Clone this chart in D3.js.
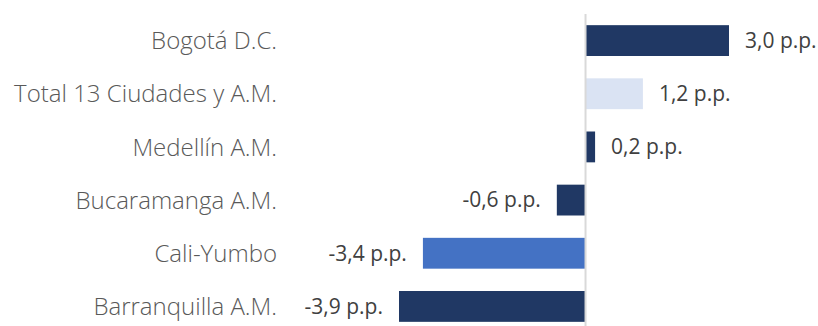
<!DOCTYPE html>
<html>
<head>
<meta charset="utf-8">
<script src="https://cdn.jsdelivr.net/npm/d3@7"></script>
<style>
  body { margin: 0; background: #fff; }
</style>
</head>
<body>
<div id="main-container"></div>
<script>
// Data
const categories = ['Bogotá D.C.', 'Total 13 Ciudades y A.M.', 'Medellín A.M.', 'Bucaramanga A.M.', 'Cali-Yumbo', 'Barranquilla A.M.'];
const values = [3.0, 1.2, 0.2, -0.6, -3.4, -3.9];
const barColors = ['#203864', '#dae3f3', '#203864', '#203864', '#4472c4', '#203864'];

const SVG_WIDTH = 818;
const SVG_HEIGHT = 326;

const SVG = d3.select('#main-container').append('svg')
    .attr('width', SVG_WIDTH)
    .attr('height', SVG_HEIGHT);

const x = d3.scaleLinear()
    .domain([-3.9, 3.0])
    .range([399, 729]);

const y = d3.scaleBand()
    .domain(categories)
    .range([14, 333])
    .paddingInner(0.42)
    .paddingOuter(0.21);

// Bars
SVG.append('g')
    .selectAll('rect')
    .data(values)
    .enter()
    .append('rect')
    .attr('x', d => x(Math.min(0, d)))
    .attr('y', (d, i) => y(categories[i]))
    .attr('width', d => Math.abs(x(d) - x(0)))
    .attr('height', y.bandwidth())
    .attr('fill', (d, i) => barColors[i]);

// Zero line
SVG.append('line')
    .attr('x1', x(0))
    .attr('x2', x(0))
    .attr('y1', 14)
    .attr('y2', SVG_HEIGHT)
    .attr('stroke', '#d9d9d9')
    .attr('stroke-width', 2);

// Category labels
SVG.append('g')
    .selectAll('text')
    .data(categories)
    .enter()
    .append('text')
    .attr('x', 277)
    .attr('y', d => y(d) + y.bandwidth() / 2)
    .attr('dy', '0.36em')
    .attr('text-anchor', 'end')
    .style('font-family', '"Open Sans", sans-serif')
    .style('font-weight', 300)
    .style('font-size', '24px')
    .style('fill', '#595959')
    .text(d => d);

// Value labels
const fmt = v => d3.format('.1f')(v).replace('.', ',').replace('−', '-') + ' p.p.';
SVG.append('g')
    .selectAll('text')
    .data(values)
    .enter()
    .append('text')
    .attr('x', d => d >= 0 ? x(d) + 16 : x(d) - 16)
    .attr('y', (d, i) => y(categories[i]) + y.bandwidth() / 2)
    .attr('dy', '0.35em')
    .attr('text-anchor', d => d >= 0 ? 'start' : 'end')
    .style('font-family', '"Open Sans", sans-serif')
    .style('font-size', '21px')
    .style('fill', '#404040')
    .text(d => fmt(d));
</script>
</body>
</html>
